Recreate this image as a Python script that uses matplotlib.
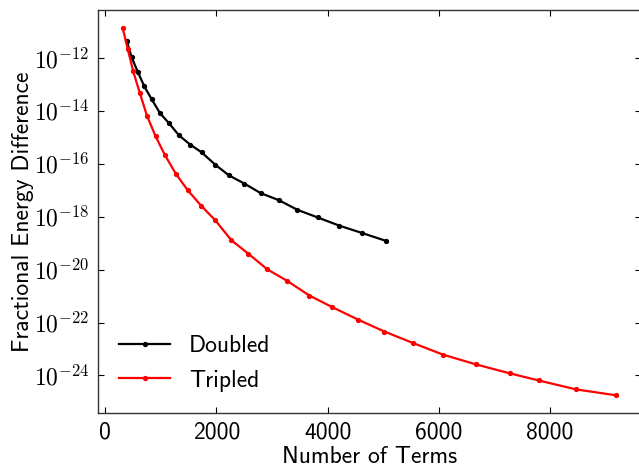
import matplotlib
matplotlib.use("Agg")
import matplotlib.pyplot as plt
from matplotlib.ticker import FixedLocator, NullLocator, FuncFormatter
import numpy as np

doubled_terms = [390, 479, 587, 707, 838, 988, 1150, 1330, 1533, 1737, 1977, 2228,
                 2504, 2797, 3127, 3456, 3822, 4211, 4624, 5055]
doubled_exp = [-11.35, -11.98, -12.52, -13.08, -13.56, -14.09, -14.47, -14.93, -15.28,
               -15.57, -16.03, -16.44, -16.75, -17.11, -17.38, -17.74, -18.03, -18.34,
               -18.62, -18.92]
tripled_terms = [318, 408, 503, 623, 755, 911, 1078, 1276, 1486, 1725, 1982, 2270, 2575,
                 2916, 3276, 3671, 4084, 4546, 5019, 5529, 6068, 6661, 7272, 7793, 8469, 9182]
tripled_exp = [-10.88, -11.66, -12.48, -13.31, -14.19, -14.97, -15.68, -16.39, -17.0,
               -17.58, -18.14, -18.89, -19.40, -19.99, -20.43, -20.98, -21.42, -21.89,
               -22.34, -22.77, -23.21, -23.58, -23.92, -24.19, -24.53, -24.75]
ytick_exps = [-12, -14, -16, -18, -20, -22, -24]
xticks = [0, 2000, 4000, 6000, 8000]

doubled_vals = [10.0 ** e for e in doubled_exp]
tripled_vals = [10.0 ** e for e in tripled_exp]

plt.rcParams['font.family'] = ['cmss10', 'DejaVu Sans']
plt.rcParams['mathtext.fontset'] = 'cm'
plt.rcParams['axes.unicode_minus'] = False

fig = plt.figure(figsize=(6.39, 4.70), dpi=100)
ax = fig.add_axes([98 / 639, 1 - 413 / 470, (641 - 98) / 639, (413 - 10) / 470])

ax.plot(doubled_terms, doubled_vals, color='black', lw=1.6, marker='o', ms=2.8,
        label='Doubled')
ax.plot(tripled_terms, tripled_vals, color='red', lw=1.6, marker='o', ms=2.8,
        label='Tripled')

ax.set_yscale('log')
ax.set_xlim(-126, 9632)
ax.set_ylim(10 ** -25.42, 10 ** -10.19)

ax.yaxis.set_major_locator(FixedLocator([10.0 ** e for e in ytick_exps]))
ax.yaxis.set_minor_locator(NullLocator())
ax.yaxis.set_major_formatter(FuncFormatter(lambda v, p: r'$10^{%d}$' % int(round(np.log10(v)))))
ax.xaxis.set_major_locator(FixedLocator(xticks))
ax.xaxis.set_minor_locator(NullLocator())

ax.tick_params(direction='in', top=True, right=True, length=4, width=0.8,
               labelsize=17, pad=6)
for s in ax.spines.values():
    s.set_linewidth(1.0)
    s.set_color('#333333')

ax.set_xlabel('Number of Terms', fontsize=17, labelpad=2)
ax.set_ylabel('Fractional Energy Difference', fontsize=17, labelpad=0)

ax.legend(loc='lower left', frameon=False, fontsize=17, handlelength=2.15,
          borderaxespad=0.5, handletextpad=0.8, labelspacing=0.55)

fig.savefig('out.png', dpi=100)
